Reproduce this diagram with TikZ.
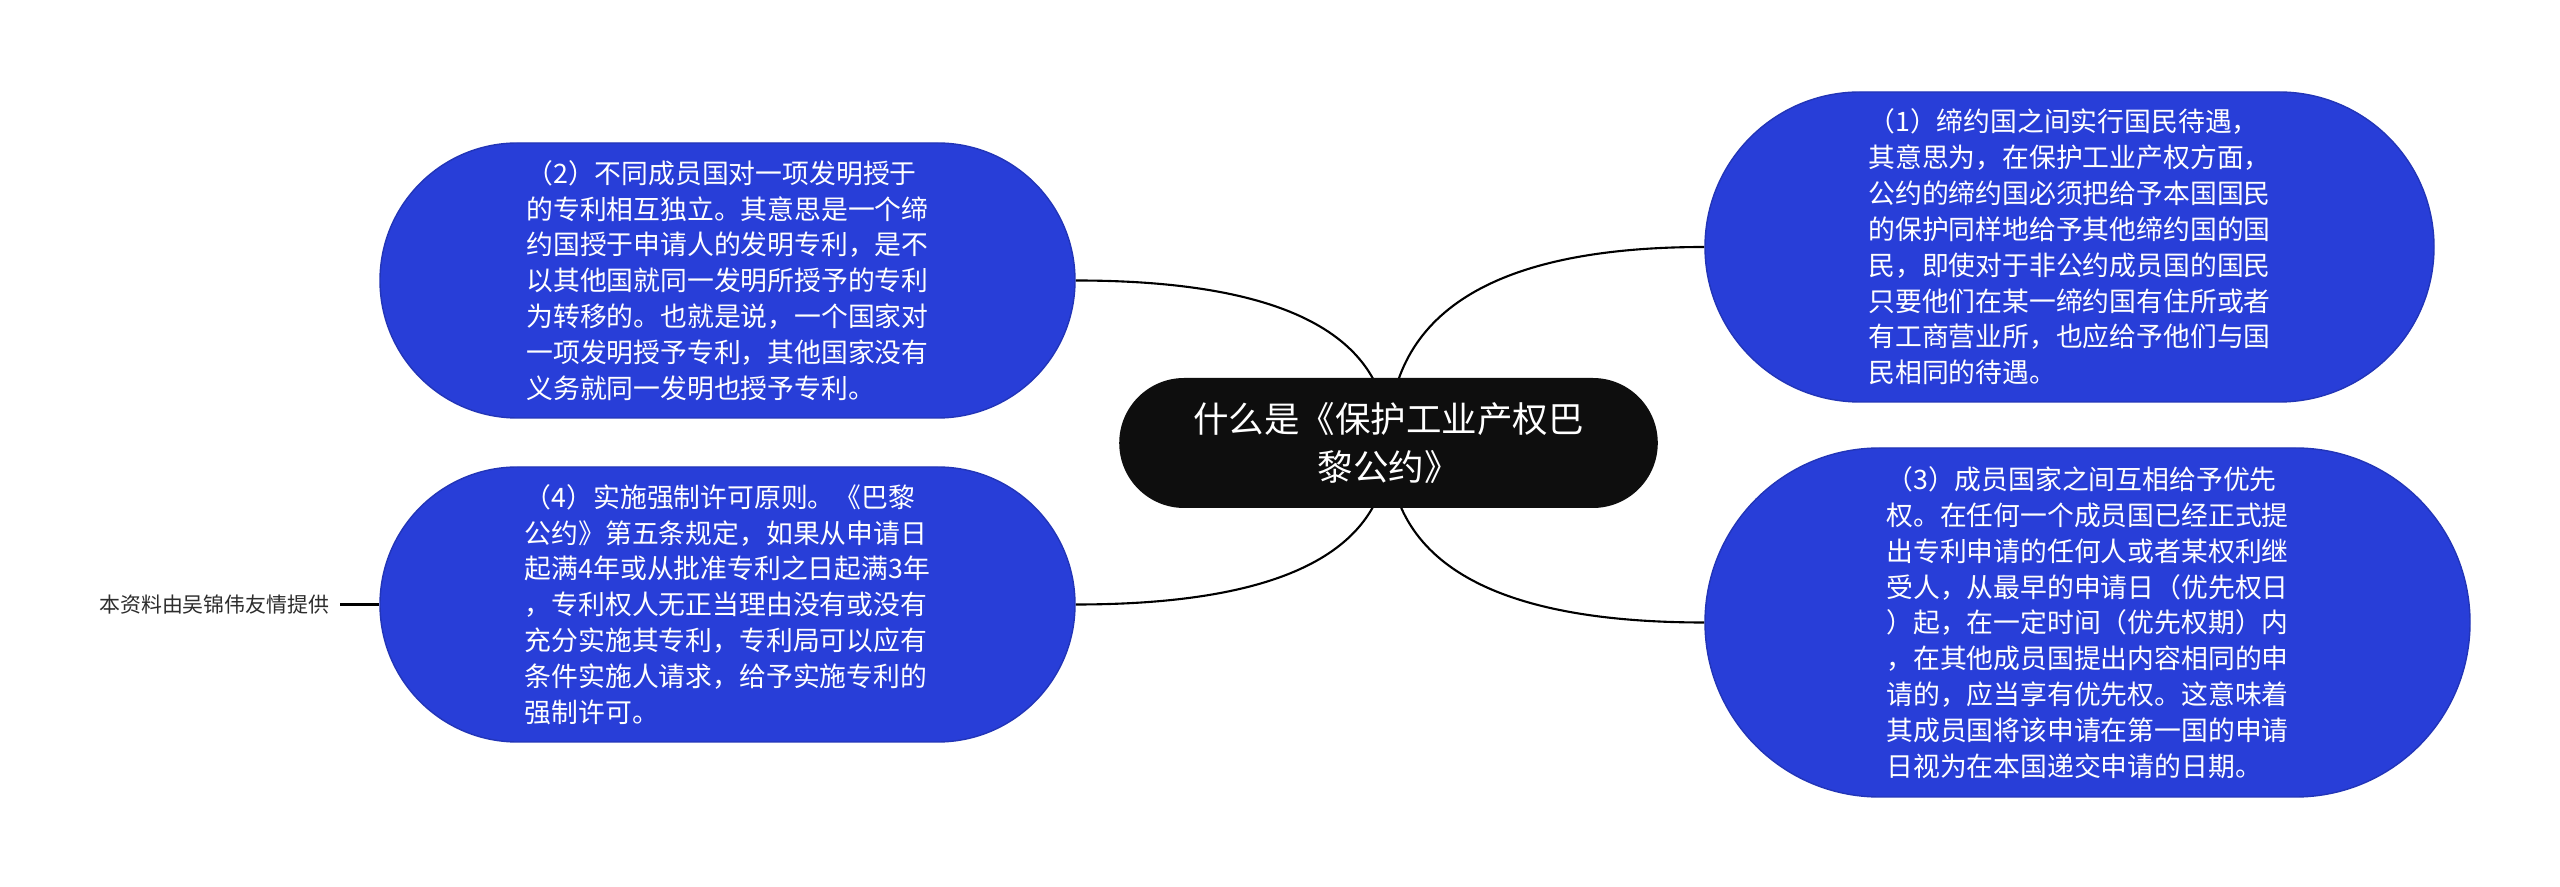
\documentclass[tikz,border=0pt]{standalone}
\usepackage{fontspec}
\newfontfamily\cjk{Noto Sans CJK SC}
\usetikzlibrary{shapes.misc,backgrounds,calc}

\definecolor{pointblue}{RGB}{40,62,216}
\definecolor{titleblack}{RGB}{14,14,14}
\definecolor{notegray}{RGB}{45,45,45}

\begin{document}
\begin{tikzpicture}[
        pointbox/.style={rounded rectangle, draw=pointblue!85!black, line width=0.4pt, fill=pointblue,
            text=white, align=left, inner sep=0pt, font=\cjk\fontsize{7.63}{10.19}\selectfont},
        titlebox/.style={rounded rectangle, fill=titleblack, text=white, align=center,
            font=\cjk\fontsize{10.1}{13.7}\selectfont},
        notetext/.style={text=notegray, inner sep=0.1cm, font=\cjk\fontsize{5.95}{7}\selectfont},
        branch/.style={line width=0.6pt, black}
    ]
        \useasboundingbox (0,0) rectangle (25.6,-8.87);

        \node[titlebox, minimum width=56.2mm, minimum height=13mm]
            (title) at (13.885,-4.43)
            {什么是《保护工业产权巴\\黎公约》};

        \node[pointbox, minimum width=72.9mm, minimum height=31mm]
            (nationalTreatment) at (20.695,-2.47)
            {（1）缔约国之间实行国民待遇，\\
             其意思为，在保护工业产权方面，\\
             公约的缔约国必须把给予本国国民\\
             的保护同样地给予其他缔约国的国\\
             民，即使对于非公约成员国的国民\\
             只要他们在某一缔约国有住所或者\\
             有工商营业所，也应给予他们与国\\
             民相同的待遇。};

        \node[pointbox, minimum width=69.5mm, minimum height=27.5mm]
            (patentIndependence) at (7.275,-2.805)
            {（2）不同成员国对一项发明授于\\
             的专利相互独立。其意思是一个缔\\
             约国授于申请人的发明专利，是不\\
             以其他国就同一发明所授予的专利\\
             为转移的。也就是说，一个国家对\\
             一项发明授予专利，其他国家没有\\
             义务就同一发明也授予专利。};

        \node[pointbox, minimum width=76.5mm, minimum height=34.9mm]
            (priorityRight) at (20.875,-6.225)
            {（3）成员国家之间互相给予优先\\
             权。在任何一个成员国已经正式提\\
             出专利申请的任何人或者某权利继\\
             受人，从最早的申请日（优先权日\\
             ）起，在一定时间（优先权期）内\\
             ，在其他成员国提出内容相同的申\\
             请的，应当享有优先权。这意味着\\
             其成员国将该申请在第一国的申请\\
             日视为在本国递交申请的日期。};

        \node[pointbox, minimum width=69.5mm, minimum height=27.5mm]
            (compulsoryLicense) at (7.275,-6.045)
            {（4）实施强制许可原则。《巴黎\\
             公约》第五条规定，如果从申请日\\
             起满4年或从批准专利之日起满3年\\
             ，专利权人无正当理由没有或没有\\
             充分实施其专利，专利局可以应有\\
             条件实施人请求，给予实施专利的\\
             强制许可。};

        \node[notetext, anchor=east]
            (sourceNote) at (3.40,-6.045)
            {本资料由吴锦伟友情提供};

        \coordinate (bendOne) at (title.center |- nationalTreatment.west);
        \coordinate (bendTwo) at (title.center |- patentIndependence.east);
        \coordinate (bendThree) at (title.center |- priorityRight.west);
        \coordinate (bendFour) at (title.center |- compulsoryLicense.east);

        \begin{scope}[on background layer]
            \fill[white] (0,0) rectangle (25.6,-8.87);
            \draw[branch] (title.center)
                .. controls ($(title.center)!2/3!(bendOne)$) and ($(nationalTreatment.west)!2/3!(bendOne)$)
                .. (nationalTreatment.west);
            \draw[branch] (title.center)
                .. controls ($(title.center)!2/3!(bendTwo)$) and ($(patentIndependence.east)!2/3!(bendTwo)$)
                .. (patentIndependence.east);
            \draw[branch] (title.center)
                .. controls ($(title.center)!2/3!(bendThree)$) and ($(priorityRight.west)!2/3!(bendThree)$)
                .. (priorityRight.west);
            \draw[branch] (title.center)
                .. controls ($(title.center)!2/3!(bendFour)$) and ($(compulsoryLicense.east)!2/3!(bendFour)$)
                .. (compulsoryLicense.east);
        \end{scope}
        \draw[branch, line width=0.75pt] (sourceNote.east) -- (compulsoryLicense.west);
    \end{tikzpicture}
\end{document}
